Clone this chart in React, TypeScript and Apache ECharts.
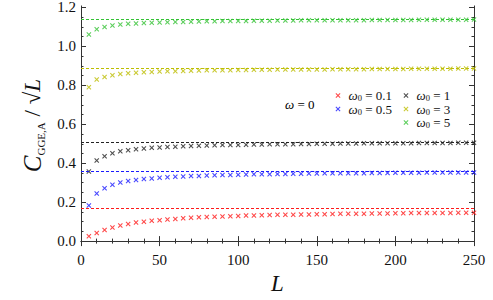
import React, { useEffect, useRef } from "react";
import * as echarts from "echarts";

const L_VALUES = [5,10,15,20,25,30,35,40,45,50,55,60,65,70,75,80,85,90,95,100,105,110,115,120,125,130,135,140,145,150,155,160,165,170,175,180,185,190,195,200,205,210,215,220,225,230,235,240,245,250];

const redVals = [0.025,0.042,0.057,0.070,0.080,0.088,0.095,0.100,0.104,0.107,0.111,0.114,0.117,0.120,0.122,0.124,0.125,0.127,0.128,0.129,0.131,0.132,0.133,0.134,0.135,0.135,0.136,0.137,0.137,0.138,0.138,0.139,0.140,0.140,0.141,0.141,0.142,0.142,0.142,0.143,0.143,0.144,0.144,0.144,0.145,0.145,0.145,0.146,0.146,0.146];
const blueVals = [0.183,0.244,0.272,0.290,0.301,0.309,0.314,0.319,0.322,0.325,0.328,0.330,0.332,0.334,0.335,0.337,0.338,0.339,0.340,0.341,0.342,0.343,0.343,0.344,0.345,0.345,0.346,0.346,0.347,0.347,0.348,0.348,0.348,0.349,0.349,0.349,0.350,0.350,0.350,0.351,0.351,0.351,0.351,0.352,0.352,0.352,0.352,0.352,0.353,0.353];
const blackVals = [0.358,0.414,0.436,0.451,0.461,0.467,0.472,0.476,0.479,0.481,0.483,0.485,0.487,0.488,0.490,0.491,0.492,0.493,0.494,0.494,0.495,0.496,0.496,0.497,0.497,0.498,0.498,0.499,0.499,0.500,0.500,0.500,0.501,0.501,0.501,0.502,0.502,0.502,0.503,0.503,0.503,0.503,0.504,0.504,0.504,0.504,0.504,0.505,0.505,0.505];
const yellowVals = [0.790,0.830,0.843,0.852,0.858,0.862,0.865,0.867,0.869,0.871,0.872,0.873,0.874,0.875,0.876,0.877,0.877,0.878,0.878,0.879,0.879,0.880,0.880,0.880,0.881,0.881,0.881,0.882,0.882,0.882,0.882,0.883,0.883,0.883,0.883,0.883,0.884,0.884,0.884,0.884,0.884,0.885,0.885,0.885,0.885,0.885,0.885,0.886,0.886,0.886];
const greenVals = [1.061,1.088,1.100,1.107,1.112,1.116,1.118,1.120,1.122,1.123,1.124,1.125,1.126,1.127,1.128,1.129,1.129,1.130,1.130,1.131,1.131,1.132,1.132,1.132,1.133,1.133,1.133,1.134,1.134,1.134,1.134,1.135,1.135,1.135,1.135,1.135,1.136,1.136,1.136,1.136,1.136,1.136,1.137,1.137,1.137,1.137,1.137,1.137,1.137,1.138];

const seriesNames = ["ω0 = 0.1", "ω0 = 0.5", "ω0 = 1", "ω0 = 3", "ω0 = 5"];
const seriesColors = ["#ff1a1a", "#1a1aff", "#222222", "#bdbd00", "#33c233"];
const asymptotes = [0.168, 0.363, 0.511, 0.891, 1.141];
const allVals = [redVals, blueVals, blackVals, yellowVals, greenVals];

const xTicks = { min: 0, max: 250, interval: 50 };
const yMajor = [0, 0.2, 0.4, 0.6, 0.8, 1.0, 1.2];
const yMinor = [0,0.05,0.1,0.15,0.2,0.25,0.3,0.35,0.4,0.45,0.5,0.55,0.6,0.65,0.7,0.75,0.8,0.85,0.9,0.95,1.0,1.05,1.1,1.15,1.2];

const FONT = "Liberation Serif";
const XMARK = "path://M0,1.5L1.5,0L5,3.5L8.5,0L10,1.5L6.5,5L10,8.5L8.5,10L5,6.5L1.5,10L0,8.5L3.5,5Z";

export default function App() {
  const ref = useRef<HTMLDivElement>(null);
  useEffect(() => {
    if (!ref.current) return;
    const chart = echarts.init(ref.current, null, { renderer: "svg" });
    const axisLine = { show: true, lineStyle: { color: "#333", width: 1 } };
    const yAxisBase = (position: string, major: boolean, labels: boolean) => ({
      type: "value",
      position,
      offset: 0,
      min: -0.02,
      max: 1.207,
      axisLine,
      splitLine: { show: false },
      axisTick: {
        show: true,
        inside: true,
        length: major ? 5 : 2.5,
        customValues: major ? yMajor : yMinor,
        lineStyle: { color: "#333" },
      },
      axisLabel: labels
        ? {
            show: true,
            customValues: yMajor,
            margin: 5,
            fontFamily: FONT,
            fontSize: 15,
            color: "#111",
            formatter: (v: number) => v.toFixed(1),
          }
        : { show: false },
    });
    const xAxisBase = (position: string, labels: boolean) => ({
      type: "value",
      position,
      min: xTicks.min,
      max: xTicks.max,
      interval: xTicks.interval,
      axisLine,
      splitLine: { show: false },
      axisTick: { show: true, inside: true, length: 5, lineStyle: { color: "#333" } },
      minorTick: { show: true, splitNumber: 5, length: 2.5, lineStyle: { color: "#333" } },
      axisLabel: labels
        ? { show: true, margin: 7, fontFamily: FONT, fontSize: 15, color: "#111" }
        : { show: false },
    });

    const legendRich = {
      w: { fontFamily: FONT, fontStyle: "italic", fontSize: 13, color: "#111" },
      s: { fontFamily: FONT, fontSize: 8.5, color: "#111", padding: [5, 0, 0, 0] },
      t: { fontFamily: FONT, fontSize: 13, color: "#111" },
    };
    const legendFmt = (name: string) => {
      const rest = name.slice(2);
      return `{w|ω}{s|0}{t|${rest}}`;
    };
    const legendBase = (names: string[], left: number) => ({
      data: names.map((n) => ({ name: n, icon: XMARK })),
      orient: "vertical",
      left,
      top: 89,
      padding: 0,
      itemGap: 0,
      itemWidth: 5,
      itemHeight: 5,
      selectedMode: false,
      formatter: legendFmt,
      textStyle: { fontFamily: FONT, rich: legendRich, lineHeight: 11.5, padding: [0, 0, 0, 3] },
    });

    chart.setOption({
      animation: false,
      backgroundColor: "#fff",
      textStyle: { fontFamily: FONT },
      grid: { left: 81, right: 19, top: 6, bottom: 51 },
      xAxis: [
        {
          ...xAxisBase("bottom", true),
          name: "L",
          nameLocation: "middle",
          nameGap: 27,
          nameTextStyle: { fontFamily: FONT, fontStyle: "italic", fontSize: 23, color: "#111" },
        },
        xAxisBase("top", false),
      ],
      yAxis: [
        {
          ...yAxisBase("left", true, true),
          name: "{c|C}{s|GGE,A}{t| / √}{l|L}",
          nameLocation: "middle",
          nameRotate: 90,
          nameGap: 32,
          nameTextStyle: {
            fontFamily: FONT,
            rich: {
              c: { fontFamily: FONT, fontStyle: "italic", fontSize: 25, color: "#111" },
              s: { fontFamily: FONT, fontSize: 11, color: "#111", padding: [17, 0, 0, 0] },
              t: { fontFamily: FONT, fontSize: 23, color: "#111" },
              l: { fontFamily: FONT, fontStyle: "italic", fontSize: 23, color: "#111" },
            },
          },
        },
        yAxisBase("left", false, false),
        yAxisBase("right", true, false),
        yAxisBase("right", false, false),
      ],
      legend: [
        legendBase(seriesNames.slice(0, 2), 335.5),
        legendBase(seriesNames.slice(2), 403.5),
      ],
      graphic: [
        {
          type: "text",
          left: 285,
          top: 98,
          style: {
            text: "{w|ω}{t| = 0}",
            fontFamily: FONT,
            rich: legendRich,
          },
        },
      ],
      series: seriesNames.map((name, i) => ({
        name,
        type: "scatter",
        xAxisIndex: 0,
        yAxisIndex: 0,
        symbol: XMARK,
        symbolSize: 5,
        itemStyle: { color: seriesColors[i] },
        data: L_VALUES.map((l, j) => [l, allVals[i][j]]),
        markLine: {
          silent: true,
          symbol: "none",
          label: { show: false },
          lineStyle: { color: seriesColors[i], type: [3, 2], width: 1, opacity: 1 },
          data: [{ yAxis: asymptotes[i] }],
        },
      })),
    });
    return () => chart.dispose();
  }, []);
  return (
    <div
      ref={ref}
      style={{ width: 493, height: 300, position: "fixed", left: 0, top: 0 }}
    />
  );
}
